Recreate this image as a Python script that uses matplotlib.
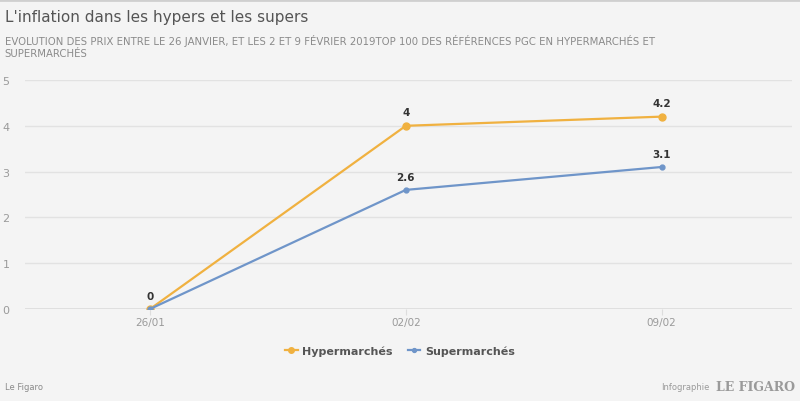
import matplotlib
matplotlib.use("Agg")
import matplotlib.pyplot as plt

categories = ["26/01", "02/02", "09/02"]
hyper = [0, 4, 4.2]
super_ = [0, 2.6, 3.1]
hyper_labels = ["", "4", "4.2"]
super_labels = ["0", "2.6", "3.1"]
yticks = [0, 1, 2, 3, 4, 5]

bg = "#f4f4f4"
orange = "#f0b140"
blue = "#6f95c9"

fig = plt.figure(figsize=(8, 4.02), dpi=100, facecolor=bg)
ax = fig.add_axes([0.031, 0.229, 0.959, 0.5695], facecolor=bg)
x = list(range(len(categories)))

ax.plot(x, hyper, color=orange, lw=1.6, marker="o", ms=5, zorder=3, label="Hypermarchés")
ax.plot(x, super_, color=blue, lw=1.6, marker="o", ms=3.5, zorder=3, label="Supermarchés")

for xi, yi, t in zip(x, hyper, hyper_labels):
    if t:
        ax.annotate(t, (xi, yi), xytext=(0, 6), textcoords="offset points", ha="center",
                    va="bottom", fontsize=7.5, fontweight="bold", color="#333333")
for xi, yi, t in zip(x, super_, super_labels):
    ax.annotate(t, (xi, yi), xytext=(0, 6), textcoords="offset points", ha="center",
                va="bottom", fontsize=7.5, fontweight="bold", color="#333333")

ax.set_xlim(-0.49, 2.51)
ax.set_ylim(0, 5)
ax.set_yticks(yticks)
ax.set_xticks(x)
ax.set_xticklabels(categories)
ax.grid(axis="y", color="#e2e2e2", lw=1)
ax.set_axisbelow(True)
for s in ax.spines.values():
    s.set_visible(False)
ax.tick_params(axis="y", length=0, labelsize=8, colors="#9a9a9a", pad=11)
ax.tick_params(axis="x", length=4, color="#dddddd", labelsize=7.5, colors="#9a9a9a", pad=2)
ax.axhline(0, color="#dcdcdc", lw=1.2, zorder=1)

leg = fig.legend(loc="center", bbox_to_anchor=(0.5, 0.125), ncol=2, frameon=False,
                 fontsize=8, handlelength=1.1, columnspacing=1.4, handletextpad=0.4,
                 markerscale=0.8)
for t in leg.get_texts():
    t.set_color("#555555")
    t.set_fontweight("bold")

fig.text(0.006, 0.957, "L'inflation dans les hypers et les supers", fontsize=11,
         color="#555555", va="center", ha="left")
fig.text(0.006, 0.897, "EVOLUTION DES PRIX ENTRE LE 26 JANVIER, ET LES 2 ET 9 FÉVRIER 2019TOP 100 DES RÉFÉRENCES PGC EN HYPERMARCHÉS ET",
         fontsize=7.3, color="#8a8a8a", va="center", ha="left")
fig.text(0.006, 0.866, "SUPERMARCHÉS", fontsize=7.3, color="#8a8a8a", va="center", ha="left")
fig.text(0.006, 0.037, "Le Figaro", fontsize=6, color="#8a8a8a", va="center", ha="left")
fig.text(0.826, 0.035, "Infographie", fontsize=6, color="#9a9a9a", va="center", ha="left")
fig.text(0.994, 0.035, "LE FIGARO", fontsize=9, color="#9a9a9a", va="center", ha="right",
         family="DejaVu Serif", fontweight="bold")
fig.add_artist(plt.Line2D([0, 1], [0.997, 0.997], transform=fig.transFigure, color="#cfcfcf", lw=2))

fig.savefig("out.png", dpi=100, facecolor=bg)
